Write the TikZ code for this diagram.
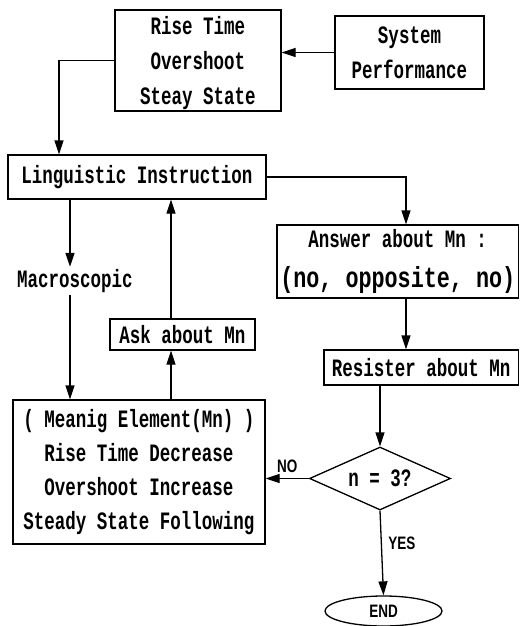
\documentclass[tikz,border=0pt]{standalone}
\usepackage{fontspec}
\usetikzlibrary{arrows.meta,shapes.geometric}
\newfontfamily\mn[FakeStretch=0.7]{Liberation Mono}
\newfontfamily\mnw[FakeStretch=0.75]{Liberation Mono}
\newfontfamily\ns[FakeStretch=0.75]{Liberation Sans}
\tikzset{
  ln/.style={line width=1.3pt},
  box/.style={draw, ln, rectangle, inner sep=0pt, align=center, font={\mn\bfseries\fontsize{25}{35}\selectfont}},
  arr/.style={ln, -{Triangle[length=14pt,width=9pt]}},
  lab/.style={font={\ns\bfseries\fontsize{18}{20}\selectfont}},
  txt/.style={inner sep=0pt, align=center, font={\mn\bfseries\fontsize{25}{35}\selectfont}}
}
\begin{document}
\begin{tikzpicture}[x=1pt,y=-1pt]
\useasboundingbox[fill=white] (0,0) rectangle (520,626);
\coordinate (c59) at (59,0);
\coordinate (c70) at (70,0);
\coordinate (c171) at (171,0);
\coordinate (c406) at (406,0);

\node[box, minimum width=166pt, minimum height=101pt, text depth=-6pt] (rise) at (198,60.5) {Rise Time\\Overshoot\\Steay State};
\node[box, minimum width=149pt, minimum height=73pt] (sys) at (409.5,52.5) {System\\Performance};
\node[box, minimum width=258pt, minimum height=44pt] (ling) at (137,177) {Linguistic Instruction};
\node[box, minimum width=241.5pt, minimum height=73pt, font={\mn\bfseries\fontsize{25}{40}\selectfont}] (ans) at (397.75,261.5) {Answer about Mn :\\{\mnw\fontsize{29}{40}\selectfont(no, opposite, no)}};
\node[box, minimum width=194.5pt, minimum height=35pt] (res) at (421.25,367.5) {Resister about Mn};
\node[txt, minimum height=28pt] (macro) at (75,281) {Macroscopic};
\node[box, minimum width=145pt, minimum height=31pt] (ask) at (182.5,334.5) {Ask about Mn};
\node[box, minimum width=252pt, minimum height=144pt, font={\mn\bfseries\fontsize{25}{34}\selectfont}] (mean) at (139,472) {( Meanig Element(Mn) )\\Rise Time Decrease\\Overshoot Increase\\Steady State Following};
\node[draw, ln, diamond, shape aspect=2.2, minimum width=141pt, minimum height=63pt, inner sep=0pt, font={\mn\bfseries\fontsize{25}{26}\selectfont}] (dia) at (380,478.5) {n = 3?};
\node[draw, ln, ellipse, minimum width=117pt, minimum height=30pt, inner sep=0pt, lab] (endn) at (383.5,611) {END};

\draw[arr] (sys.west) -- (sys.west -| rise.east);
\draw[arr] (rise.west) -| (c59 |- ling.north);
\draw[arr] (ling.east) -| (c406 |- ans.north);
\draw[arr] (c406 |- ans.south) -- (c406 |- res.north);
\draw[arr] (dia.north |- res.south) -- (dia.north);
\draw[arr] (dia.west) -- (dia.west -| mean.east) node[lab, midway, above=2pt] {NO};
\draw[arr] (dia.south) -- (endn.north) node[lab, pos=0.38, right=3pt] {YES};
\draw[arr] (c70 |- ling.south) -- (c70 |- macro.north);
\draw[arr] (c70 |- macro.south) -- (c70 |- mean.north);
\draw[arr] (c171 |- mean.north) -- (c171 |- ask.south);
\draw[arr] (c171 |- ask.north) -- (c171 |- ling.south);
\end{tikzpicture}
\end{document}
